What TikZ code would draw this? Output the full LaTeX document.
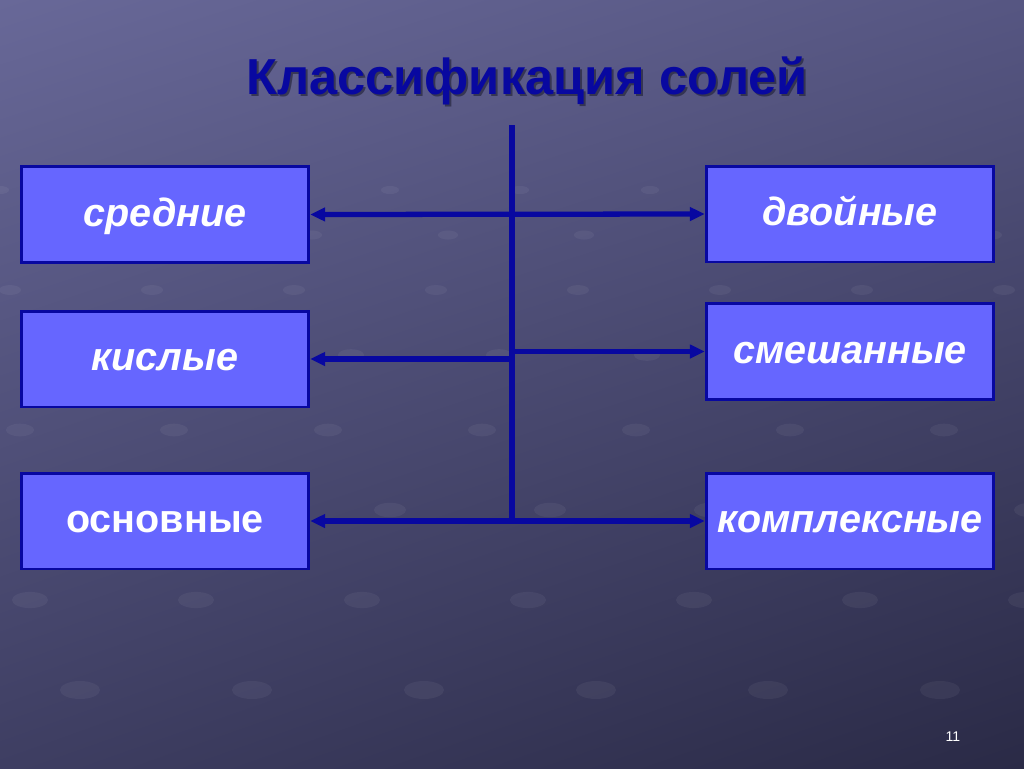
\documentclass[tikz,border=0pt]{standalone}
\usepackage{fontspec}
\setmainfont{Liberation Sans}
\usetikzlibrary{arrows.meta,shadings}
\definecolor{bgtl}{RGB}{104, 104, 152}
\definecolor{bgtr}{RGB}{86, 86, 130}
\definecolor{bgbl}{RGB}{62, 62, 98}
\definecolor{bgbr}{RGB}{42, 42, 70}
\definecolor{navy}{RGB}{8, 8, 160}
\definecolor{boxfill}{RGB}{102, 102, 255}
\definecolor{tshadow}{RGB}{30, 30, 50}

\begin{document}
\begin{tikzpicture}[x=0.02cm, y=-0.02cm,
    kind/.style={draw=navy, line width=1.7pt, fill=boxfill, text=white,
      minimum width=5.75cm, minimum height=1.92cm, inner sep=0pt,
      text height=18pt, text depth=4.4pt,
      font=\fontsize{22.5}{27}\selectfont\bfseries\itshape},
    link/.style={draw=navy, line width=3pt},
    tip/.style={-{Triangle[length=8.5pt,width=7.5pt]}},
    tips/.style={{Triangle[length=8.5pt,width=7.5pt]}-{Triangle[length=8.5pt,width=7.5pt]}},
    dot/.style={fill=white, opacity=0.05}]
      \useasboundingbox (0, 0) rectangle (1024, 768);
      \shade[upper left=bgtl, upper right=bgtr, lower left=bgbl, lower right=bgbr]
        (0, 0) rectangle (1024, 768);
      % faint dots of the background
      \foreach \r/\yy/\s/\o in {0/190/9/0, 1/235/10/40, 2/290/11/10, 3/355/13/55,
        4/430/14/20, 5/510/16/70, 6/600/18/30, 7/690/20/80} {
        \foreach \i in {0,...,7} {
          \fill[dot] ({\o + \i*(130 + 6*\r)}, {\yy}) ellipse ({\s} and {\s*0.45});
        }
      }
      % title
      \node[text=tshadow, opacity=0.6, font=\fontsize{28.8}{34}\selectfont\bfseries]
        (titleshadow) at (529, 83) {Классификация солей};
      \node[text=navy, font=\fontsize{28.8}{34}\selectfont\bfseries]
        (title) at (527, 81) {Классификация солей};
      % kinds of salts
      \node[kind] (sred) at (165, 214.5) {средние};
      \node[kind] (kisl) at (165, 359) {кислые};
      \node[kind, font=\fontsize{22.5}{27}\selectfont\bfseries] (osn) at (165, 521) {основные};
      \node[kind] (dvoi) at (850, 214) {двойные};
      \node[kind] (smesh) at (850, 351.5) {смешанные};
      \node[kind] (kompl) at (850, 521) {комплексные};
      % connectors
      \coordinate (top) at (512, 125);
      \coordinate (bot) at (512, 521);
      \draw[link] (top) -- (bot);
      \draw[link, tips] (sred.east) -- (dvoi.west);
      \draw[link, tip] (top |- kisl.east) -- (kisl.east);
      \draw[link, tip] (top |- smesh.west) -- (smesh.west);
      \draw[link, tips] (osn.east) -- (kompl.west);
      % page number
      \node[text=white, font=\fontsize{8}{10}\selectfont] (pagenum) at (953, 737) {11};
    \end{tikzpicture}
\end{document}
